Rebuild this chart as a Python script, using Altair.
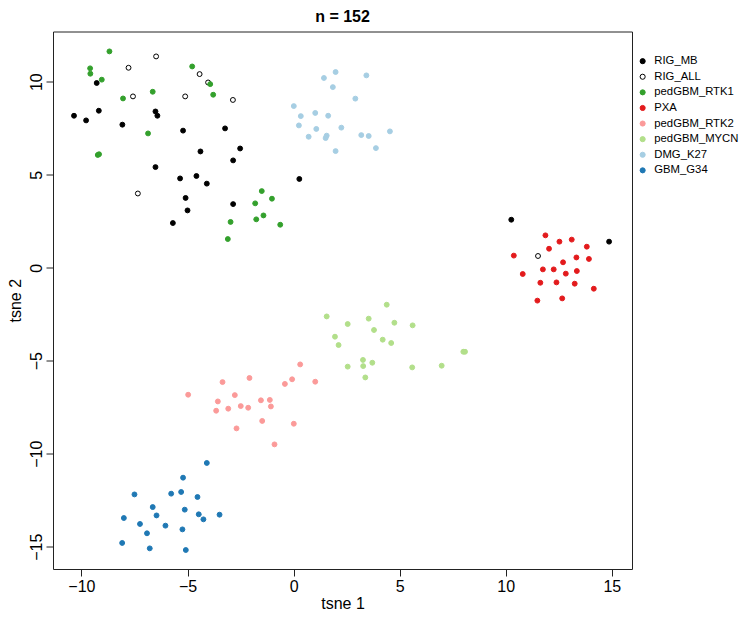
import altair as alt
import pandas as pd

groups = ["RIG_MB", "RIG_ALL", "pedGBM_RTK1", "PXA", "pedGBM_RTK2", "pedGBM_MYCN", "DMG_K27", "GBM_G34"]
fill_colors = ["#000000", "#FFFFFF", "#33A02C", "#E31A1C", "#FB9A99", "#B2DF8A", "#A6CEE3", "#1F78B4"]
stroke_colors = ["#000000", "#000000", "#33A02C", "#E31A1C", "#FB9A99", "#B2DF8A", "#A6CEE3", "#1F78B4"]

rig_mb_x = [-9.28, -10.35, -9.78, -9.18, -8.07, -6.51, -6.42, -5.21, -3.23, -2.52, -4.39, -2.85, -6.51, -5.35, -4.58, -4.09, -5.09, -5.00, -2.85, -5.69, 0.27, 10.26, 14.87]
rig_mb_y = [9.93, 8.17, 7.92, 8.44, 7.69, 8.40, 8.17, 7.37, 7.49, 6.41, 6.25, 5.77, 5.41, 4.80, 4.93, 4.52, 3.75, 3.08, 3.42, 2.40, 4.77, 2.58, 1.40]

rig_all_x = [-6.48, -7.78, -4.43, -4.03, -7.57, -5.11, -2.86, -7.34, 11.52]
rig_all_y = [11.36, 10.75, 10.41, 9.96, 9.21, 9.21, 9.02, 3.99, 0.63]

rtk1_x = [-8.68, -9.59, -9.58, -9.04, -8.04, -6.64, -6.86, -9.23, -9.17, -4.78, -3.93, -3.79, -1.50, -1.02, -1.81, -1.42, -1.76, -2.97, -0.63, -3.10]
rtk1_y = [11.63, 10.72, 10.43, 10.11, 9.10, 9.46, 7.22, 6.06, 6.10, 10.82, 9.87, 9.30, 4.12, 3.71, 3.46, 2.81, 2.60, 2.46, 2.31, 1.54]

pxa_x = [11.87, 12.53, 13.11, 12.04, 13.82, 10.38, 13.33, 13.92, 12.70, 11.75, 12.26, 12.83, 13.35, 10.80, 11.63, 12.39, 13.25, 14.15, 11.49, 12.66]
pxa_y = [1.74, 1.40, 1.51, 1.02, 1.13, 0.65, 0.55, 0.47, 0.29, -0.09, -0.09, -0.32, -0.18, -0.34, -0.81, -0.79, -0.86, -1.13, -1.77, -1.65]

rtk2_x = [0.31, -0.07, 1.02, -0.41, -2.08, -3.35, -4.97, -2.77, -3.57, -1.54, -1.12, -1.07, -3.65, -3.08, -2.49, -2.14, -1.48, 0.01, -2.69, -0.90]
rtk2_y = [-5.20, -6.00, -6.13, -6.25, -5.93, -6.15, -6.83, -6.85, -7.19, -7.13, -7.11, -7.46, -7.69, -7.58, -7.44, -7.53, -8.24, -8.39, -8.64, -9.50]

mycn_x = [4.39, 1.56, 3.54, 2.55, 4.75, 5.61, 3.79, 1.95, 4.20, 4.60, 2.12, 3.27, 3.71, 2.55, 3.28, 5.59, 6.98, 3.38, 8.00, 8.08]
mycn_y = [-1.99, -2.62, -2.74, -3.03, -2.96, -3.10, -3.35, -3.71, -3.87, -4.05, -4.16, -4.96, -5.11, -5.32, -5.29, -5.36, -5.27, -5.90, -4.52, -4.52]

dmg_x = [1.98, 1.43, 3.43, 1.85, 2.91, 0.01, 0.34, 1.02, 1.63, 0.25, 1.07, 2.25, 0.71, 1.56, 1.51, 3.19, 3.54, 4.54, 1.98, 3.88]
dmg_y = [10.52, 10.20, 10.34, 9.71, 9.09, 8.69, 8.15, 8.32, 8.17, 7.65, 7.46, 7.53, 7.04, 7.10, 6.97, 7.13, 7.08, 7.33, 6.27, 6.43]

g34_x = [-4.09, -5.21, -7.50, -5.77, -5.30, -4.53, -6.64, -5.13, -6.46, -4.47, -3.49, -4.25, -8.00, -7.24, -6.04, -6.91, -5.24, -8.08, -6.78, -5.08]
g34_y = [-10.50, -11.29, -12.19, -12.15, -12.06, -12.33, -12.87, -13.01, -13.32, -13.26, -13.28, -13.53, -13.46, -13.78, -13.87, -14.28, -14.07, -14.80, -15.09, -15.18]

x_ticks = [-10, -5, 0, 5, 10, 15]
y_ticks = [-15, -10, -5, 0, 5, 10]

series = [
    ("RIG_MB", rig_mb_x, rig_mb_y),
    ("RIG_ALL", rig_all_x, rig_all_y),
    ("pedGBM_RTK1", rtk1_x, rtk1_y),
    ("PXA", pxa_x, pxa_y),
    ("pedGBM_RTK2", rtk2_x, rtk2_y),
    ("pedGBM_MYCN", mycn_x, mycn_y),
    ("DMG_K27", dmg_x, dmg_y),
    ("GBM_G34", g34_x, g34_y),
]
rows = []
order = 0
for name, xs, ys in series:
    for xv, yv in zip(xs, ys):
        rows.append({"group": name, "tsne1": xv, "tsne2": yv, "order": order})
        order += 1
df = pd.DataFrame(rows)

FONT = "Liberation Sans"

legend = alt.Legend(
    title=None, orient="none", legendX=584, legendY=24, padding=0,
    symbolType="circle", symbolSize=26, symbolStrokeWidth=1,
    labelFontSize=11.3, labelFont=FONT, labelColor="black",
    labelOffset=6, rowPadding=3.6, labelLimit=200,
)

chart = alt.Chart(df).mark_point(shape="circle", size=24, strokeWidth=1, opacity=1, filled=False).encode(
    x=alt.X("tsne1:Q", title="tsne 1",
            scale=alt.Scale(domain=[-11.34, 15.95], nice=False, zero=False),
            axis=alt.Axis(values=x_ticks, format="d")),
    y=alt.Y("tsne2:Q", title="tsne 2",
            scale=alt.Scale(domain=[-16.2, 12.7], nice=False, zero=False),
            axis=alt.Axis(values=y_ticks, format="d", labelAngle=270, labelAlign="center", labelBaseline="bottom")),
    fill=alt.Fill("group:N", scale=alt.Scale(domain=groups, range=fill_colors), legend=legend),
    stroke=alt.Stroke("group:N", scale=alt.Scale(domain=groups, range=stroke_colors), legend=legend),
    order=alt.Order("order:Q"),
).properties(
    width=579,
    height=537.5,
    autosize=alt.AutoSizeParams(type="none"),
    padding={"left": 45, "top": 23.5, "right": 107, "bottom": 42},
    title=alt.TitleParams("n = 152", fontSize=16, fontWeight="bold", font=FONT,
                          anchor="middle", offset=7, color="black"),
).configure_view(
    stroke="#222222", strokeWidth=1
).configure_axis(
    domain=False, grid=False, ticks=True, tickColor="#222222", tickSize=7, tickWidth=1,
    labelFont=FONT, labelFontSize=16, labelColor="black", labelPadding=2,
    titleFont=FONT, titleFontSize=16, titleFontWeight="normal", titleColor="black",
    labelFlush=False, labelOverlap=False,
).configure_axisX(
    titlePadding=1
).configure_axisY(
    titlePadding=5
)

chart.save("out.html", embed_options={"renderer": "svg", "actions": False})
